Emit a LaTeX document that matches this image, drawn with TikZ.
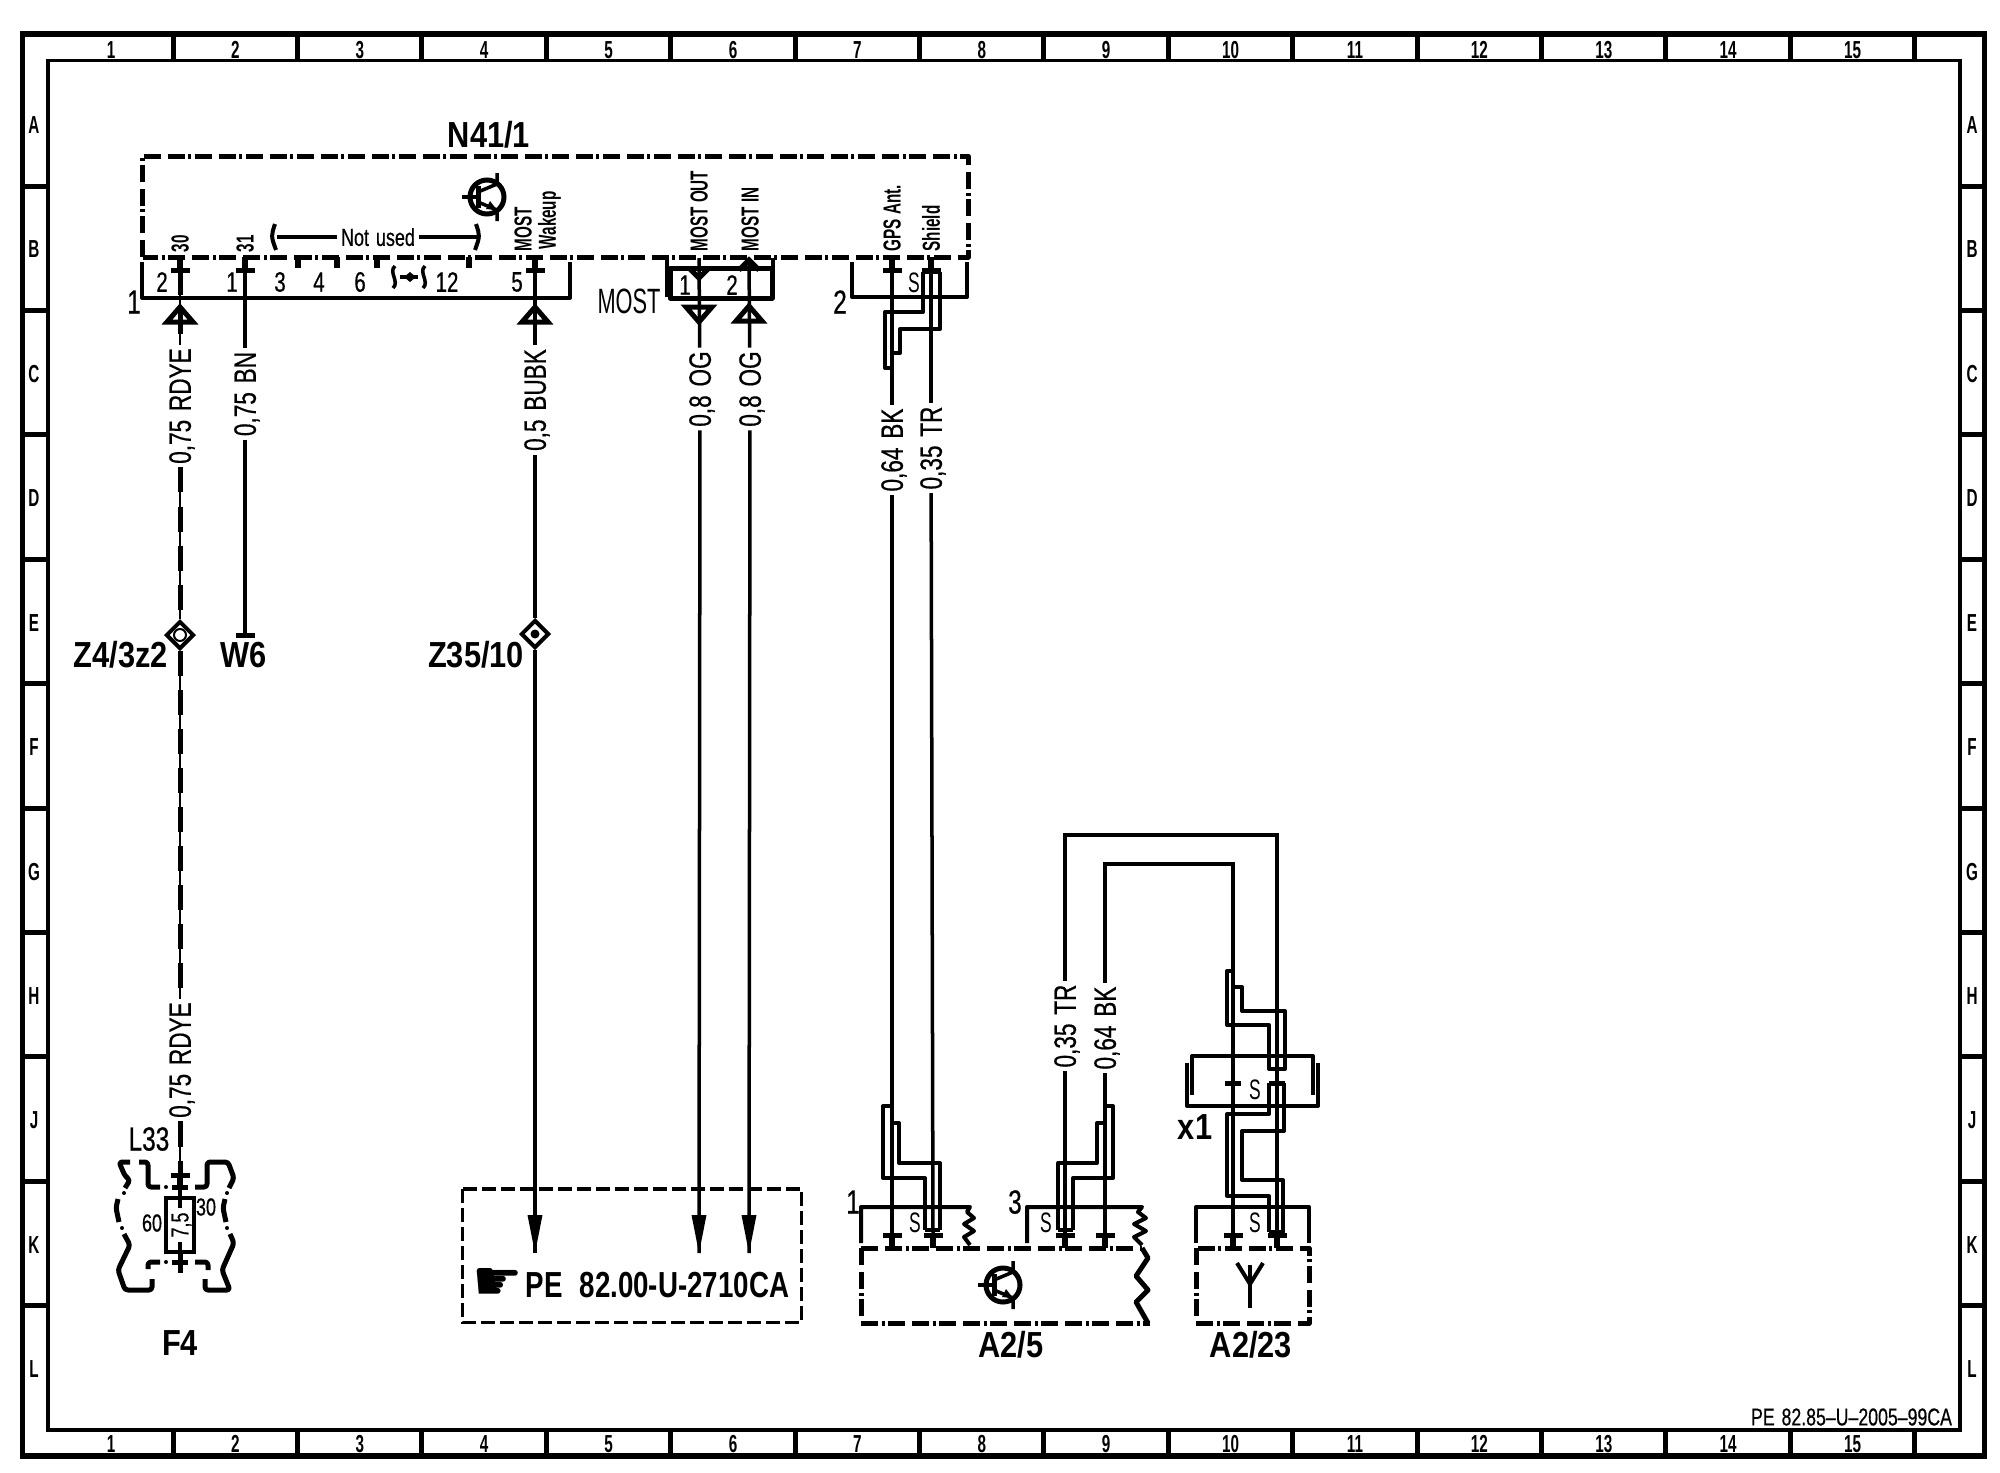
\documentclass[tikz,border=0pt]{standalone}
\usepackage{fontspec}
\usetikzlibrary{shapes.geometric}
\newfontfamily\wirefont[FakeStretch=0.73,FakeBold=0.5,WordSpace=1.4]{Liberation Sans}
\newfontfamily\namefont[FakeStretch=0.85]{Liberation Sans}
\newfontfamily\reffont[FakeStretch=0.765,WordSpace=2.2]{Liberation Sans}
\newfontfamily\pinfont[FakeStretch=0.62]{Liberation Sans}
\newfontfamily\handfont{DejaVu Sans}
\tikzset{
    x=0.01cm, y=-0.01cm,
    wire/.style={draw=black, line width=0.035cm},
    stripe/.style={draw=black, line width=0.015cm, postaction={draw, line width=0.05cm, dash pattern=on 0.25cm off 0.14cm}},
    shield/.style={draw=black, line width=0.04cm, line join=round},
    bracket/.style={draw=black, line width=0.04cm, line join=round},
    unit/.style={draw=black, line width=0.05cm, line join=round, dash pattern=on 0.17cm off 0.07cm on 0.17cm off 0.035cm on 0.03cm off 0.035cm},
    frame/.style={draw=black, line width=0.05cm},
    fuseline/.style={draw=black, line width=0.05cm, line join=round, rounded corners=0.03cm},
    wirelabel/.style={font=\wirefont\fontsize{8.8}{9}\selectfont, rotate=90, inner sep=0.03cm, text depth=0pt},
    smalllabel/.style={font=\pinfont\bfseries\fontsize{7}{8}\selectfont, inner sep=0pt, text depth=0pt},
    pinnum/.style={font=\wirefont\fontsize{8}{9}\selectfont, inner sep=0pt},
    connum/.style={font=\wirefont\fontsize{9.5}{10}\selectfont, inner sep=0pt},
    devname/.style={font=\namefont\bfseries\fontsize{10.3}{11}\selectfont, inner sep=0pt},
    shieldmark/.style={font=\pinfont\fontsize{8}{9}\selectfont, inner sep=0pt},
    splice/.style={shape=diamond, draw=black, fill=white, line width=0.04cm, minimum width=0.28cm, minimum height=0.28cm, inner sep=0pt},
    sockup/.pic={
        \draw[line width=0.06cm] (0,-13) -- (0,0);
        \draw[line width=0.05cm] (-7,3) -- (-7,0) -- (7,0) -- (7,3);
    },
    sockdown/.pic={
        \draw[line width=0.06cm] (0,0) -- (0,13);
        \draw[line width=0.05cm] (-7,3) -- (-7,0) -- (7,0) -- (7,3);
    },
    tipup/.pic={\draw[line width=0.05cm, line join=miter] (0,-8) -- (13,7) -- (-13,7) -- cycle;},
    tipdown/.pic={\draw[line width=0.05cm, line join=miter] (0,8) -- (13,-7) -- (-13,-7) -- cycle;},
    transistor/.pic={
        \draw[line width=0.05cm] (0,0) circle (17);
        \draw[line width=0.04cm] (-25,0) -- (-9,0);
        \draw[line width=0.05cm] (-9,-11) -- (-9,11);
        \draw[line width=0.035cm] (-9,-5) -- (10,-13) -- (10,-24);
        \draw[line width=0.035cm] (-9,5) -- (10,13) -- (10,24);
        \fill (10,13) -- (-1,12) -- (3,4) -- cycle;
    },
}
\begin{document}
\begin{tikzpicture}
    \useasboundingbox (0,0) rectangle (2000,1472);
    % sheet frame
    \draw[line width=0.055cm] (22.5,34) rectangle (1984.5,1456);
    \draw[line width=0.035cm] (48,60.5) rectangle (1960,1430);
    \foreach \i in {1,...,15} {
        \pgfmathsetmacro{\tickx}{173+124.4*(\i-1)}
        \draw[frame] (\tickx,34) -- (\tickx,60.5);
        \draw[frame] (\tickx,1430) -- (\tickx,1456);
        \node[smalllabel] (top\i) at (\tickx-62,50) {\i};
        \node[smalllabel] (bot\i) at (\tickx-62,1444) {\i};
    }
    \foreach \r [count=\i] in {A,B,C,D,E,F,G,H,J,K,L} {
        \pgfmathsetmacro{\rowy}{186+124.4*(\i-1)}
        \node[smalllabel] (left\r) at (34,\rowy-61) {\r};
        \node[smalllabel] (right\r) at (1972,\rowy-61) {\r};
    }
    \foreach \i in {0,...,9} {
        \pgfmathsetmacro{\rowy}{186+124.4*\i}
        \draw[frame] (22.5,\rowy) -- (48,\rowy);
        \draw[frame] (1960,\rowy) -- (1984.5,\rowy);
    }
    \node[font=\wirefont\fontsize{6.9}{8}\selectfont, inner sep=0pt] (sheetno) at (1851.5,1417) {PE 82.85–U–2005–99CA};

    % N41/1
    \draw[unit] (142.5,257) -- (142.5,156) -- (968,156) -- (968,257) -- cycle;
    \node[devname] (n41) at (489,135) {N41/1};
    \pic at (487,197) {transistor};
    \draw[bracket] (142,262) -- (142,298) -- (570,298) -- (570,262);
    \draw[bracket] (852,262) -- (852,297) -- (967,297) -- (967,262);
    \node[connum] (con1) at (134,302) {1};
    \node[connum] (con2) at (840,302) {2};
    \node[connum, font=\pinfont\fontsize{10}{10}\selectfont] (conmost) at (629,301) {MOST};
    \node[pinnum] (n2) at (162,282) {2};
    \node[pinnum] (n1) at (232,282) {1};
    \node[pinnum] (n3) at (280,282) {3};
    \node[pinnum] (n4) at (319,282) {4};
    \node[pinnum] (n6) at (360,282) {6};
    \node[pinnum] (n12) at (447,282) {12};
    \node[pinnum] (n5) at (517,282) {5};
    \node[shieldmark] (ns) at (914,283) {S};
    \foreach \x in {298,337,377,469}
        \draw[line width=0.06cm] (\x,257) -- (\x,268);
    \node[smalllabel, font=\wirefont\fontsize{7}{7}\selectfont, inner xsep=0.03cm] (notused) at (378,237) {Not used};
    \coordinate (usedl) at (277,237);
    \coordinate (usedr) at (477,237);
    \draw[wire] (usedl) -- (notused) -- (usedr);
    \draw[line width=0.04cm] (275,224) .. controls (271,236) .. (276,250);
    \draw[line width=0.04cm] (476,224) .. controls (480,236) .. (475,250);
    % pins break
    \draw[line width=0.035cm] (395,266) .. controls (388,272) and (400,282) .. (393,288);
    \draw[line width=0.035cm] (425,266) .. controls (418,272) and (430,282) .. (423,288);
    \draw[wire] (400,277) -- (418,277);
    \fill (404,277) -- (410,272) -- (416,277) -- (410,282) -- cycle;

    % pin texts
    \node[smalllabel, rotate=90, anchor=west] (t30) at (180,253) {30};
    \node[smalllabel, rotate=90, anchor=west] (t31) at (245,253) {31};
    \node[smalllabel, rotate=90, anchor=west] (tmost) at (523,252) {MOST};
    \node[smalllabel, rotate=90, anchor=west] (twake) at (547,250) {Wakeup};
    \node[smalllabel, rotate=90, anchor=west] (tout) at (699,252) {MOST OUT};
    \node[smalllabel, rotate=90, anchor=west] (tin) at (750,252) {MOST IN};
    \node[smalllabel, rotate=90, anchor=west] (tgps) at (892,252) {GPS Ant.};
    \node[smalllabel, rotate=90, anchor=west] (tshield) at (931,252) {Shield};

    % pins of N41/1
    \coordinate (pin30) at (180,270);
    \coordinate (pin31) at (245,270);
    \coordinate (pin5) at (535,270);
    \coordinate (pingps) at (892,270);
    \coordinate (pinshield) at (931,270);
    \foreach \p in {pin30,pin31,pin5,pingps,pinshield}
        \pic at (\p) {sockup};

    % wires down from N41/1
    \node[wirelabel] (w30a) at (180,406) {0,75 RDYE};
    \node[wirelabel] (w30b) at (180,1060) {0,75 RDYE};
    \node[wirelabel] (w31) at (245,394) {0,75 BN};
    \node[wirelabel] (w5) at (535,400) {0,5 BUBK};
    \node[wirelabel] (wout) at (700,389) {0,8 OG};
    \node[wirelabel] (win) at (750,389) {0,8 OG};
    \node[wirelabel] (wbk) at (892,450) {0,64 BK};
    \node[wirelabel] (wtr) at (931,448) {0,35 TR};
    \draw[stripe] (pin30) -- (w30a);
    \draw[wire] (pin31) -- (w31);
    \draw[wire] (pin5) -- (w5);
    \draw[wire] (pingps) -- (wbk);
    \draw[wire] (pinshield) -- (wtr);
    \pic at (180,315) {tipup};
    \pic at (535,315) {tipup};

    % splices and the ends
    \node[splice] (z4) at (180,635) {};
    \node[splice] (z35) at (535,634) {};
    \draw[stripe] (w30a) -- (z4);
    \draw[stripe] (z4) -- (w30b);
    \draw[wire] (w5) -- (z35);
    \node[draw, circle, line width=0.02cm, inner sep=0pt, minimum size=0.12cm] (z4c) at (180,635) {};
    \node[fill, circle, inner sep=0pt, minimum size=0.09cm] (z35c) at (535,634) {};
    \node[devname] (z4name) at (121,655) {Z4/3z2};
    \node[devname] (z35name) at (476,655) {Z35/10};
    \coordinate (w6end) at (245,635);
    \draw[wire] (w31) -- (w6end);
    \draw[line width=0.05cm] (236,635) -- (255,635);
    \node[devname] (w6) at (244,655) {W6};

    % MOST plug
    \draw[line width=0.05cm, line join=round] (670,268) rectangle (772,298);
    \draw[line width=0.04cm] (667,258) -- (667,297);
    \draw[line width=0.04cm] (773,258) -- (773,297);
    \node[pinnum] (most1) at (685,285) {1};
    \node[pinnum] (most2) at (732,285) {2};
    \coordinate (pinout) at (699,258);
    \coordinate (pinin) at (749,258);
    \draw[wire] (pinout) -- (wout);
    \draw[wire] (pinin) -- (win);
    \draw[line width=0.05cm] (689,268) -- (699,278) -- (709,268);
    \draw[line width=0.05cm] (739,270) -- (749,260) -- (759,270);
    \pic at (699,314) {tipdown};
    \pic at (749,314) {tipup};

    % lower left: F4
    \draw[fuseline] (130,1162) -- (119,1162) -- (125,1176) -- (130,1180) -- (125,1188);
    \draw[fuseline] (118,1199) -- (116,1208) -- (119,1222);
    \draw[fuseline] (124,1234) -- (130,1245) -- (118,1270) -- (125,1290) -- (152,1290) -- (152,1279);
    \draw[fuseline] (148,1269) -- (148,1262) -- (160,1262);
    \draw[fuseline] (172,1262) -- (188,1262);
    \draw[fuseline] (195,1262) -- (208,1262) -- (208,1270);
    \draw[fuseline] (205,1279) -- (205,1290) -- (230,1290) -- (222,1270) -- (234,1243) -- (230,1234);
    \draw[fuseline] (226,1222) -- (223,1208) -- (225,1199);
    \draw[fuseline] (229,1188) -- (234,1178) -- (228,1162) -- (207,1162) -- (207,1187) -- (195,1187);
    \draw[fuseline] (172,1187) -- (188,1187);
    \draw[fuseline] (160,1187) -- (148,1187) -- (148,1162) -- (139,1162);
    \foreach \x/\y in {124/1193,122/1228,227/1228,227/1193,166/1262,166/1187}
        \fill (\x,\y) circle (2);
    \node[connum] (l33) at (149,1139) {L33};
    \node[draw=black, line width=0.045cm, minimum width=0.28cm, minimum height=0.54cm, inner sep=0pt] (fuse) at (180,1225) {};
    \node[smalllabel, rotate=90, font=\wirefont\fontsize{7}{8}\selectfont] (fuseval) at (180,1225) {7,5};
    \coordinate (pinfuse) at (180,1175);
    \coordinate (fuseend) at (180,1273);
    \pic at (pinfuse) {sockdown};
    \draw[stripe] (w30b) -- (pinfuse);
    \draw[wire] (pinfuse) -- (fuse);
    \draw[line width=0.05cm] (fuse) -- (fuseend);
    \draw[wire] (180,1198) -- (180,1208);
    \draw[wire] (180,1242) -- (180,1252);
    \node[pinnum, font=\wirefont\fontsize{7}{8}\selectfont] (f60) at (152,1223) {60};
    \node[pinnum, font=\wirefont\fontsize{7}{8}\selectfont] (f30) at (206,1207) {30};
    \node[devname] (f4) at (180,1343) {F4};

    % reference box
    \draw[line width=0.035cm, dash pattern=on 0.14cm off 0.05cm] (462.7,1189) rectangle (801.7,1322.7);
    \node[inner sep=0pt, font=\handfont\fontsize{16}{16}\selectfont] (hand) at (498,1284) {☛};
    \node[devname, font=\reffont\bfseries\fontsize{10.3}{11}\selectfont, anchor=west] (peref) at (525,1285) {PE 82.00-U-2710CA};
    \coordinate (in5) at (535,1253);
    \coordinate (inout) at (699,1253);
    \coordinate (inin) at (749,1253);
    \draw[wire] (z35) -- (in5);
    \draw[wire] (wout) -- (inout);
    \draw[wire] (win) -- (inin);
    \foreach \p in {in5,inout,inin}
        \fill (\p) ++(-7.5,-38) -- ++(15,0) -- (\p) -- cycle;

    % shield at N41/1
    \draw[shield] (923,272) -- (923,312) -- (885,312) -- (885,368) -- (892,368);
    \draw[shield] (940,272) -- (940,329) -- (900,329) -- (900,353) -- (892,353);
    \draw[shield] (923,272) -- (940,272);

    % A2/5
    \draw[unit] (861,1248) -- (1142,1248);
    \draw[unit] (861,1248) -- (861,1323) -- (1150,1323);
    \pic at (1003,1285) {transistor};
    \draw[bracket] (861,1243) -- (861,1207) -- (970,1207) -- (967,1212) -- (974,1218) -- (964,1224) -- (974,1231) -- (964,1237) -- (970,1245);
    \draw[bracket] (1027,1243) -- (1027,1207) -- (1142,1207) -- (1138,1212) -- (1146,1218) -- (1134,1224) -- (1146,1231) -- (1134,1237) -- (1142,1245);
    \draw[line width=0.05cm, line join=round] (1142,1248) -- (1148,1258) -- (1136,1276) -- (1148,1290) -- (1136,1302) -- (1148,1323);
    \node[connum] (a1) at (853,1202) {1};
    \node[connum] (a3) at (1015,1202) {3};
    \node[shieldmark] (as1) at (915,1223) {S};
    \node[shieldmark] (as3) at (1046,1223) {S};
    \coordinate (pina1) at (892,1235);
    \coordinate (pina2) at (933,1235);
    \coordinate (pina3) at (1065,1235);
    \coordinate (pina4) at (1105,1235);
    \foreach \p in {pina1,pina2,pina3,pina4}
        \pic at (\p) {sockdown};
    \draw[wire] (wbk) -- (pina1);
    \draw[wire] (wtr) -- (pina2);
    \node[devname] (a25) at (1011,1345) {A2/5};
    \draw[shield] (892,1106) -- (883,1106) -- (883,1178) -- (925,1178) -- (925,1230);
    \draw[shield] (892,1123) -- (899,1123) -- (899,1163) -- (940,1163) -- (940,1230);
    \draw[shield] (925,1230) -- (940,1230);
    \draw[shield] (1105,1106) -- (1113,1106) -- (1113,1178) -- (1073,1178) -- (1073,1230);
    \draw[shield] (1105,1123) -- (1097,1123) -- (1097,1163) -- (1058,1163) -- (1058,1230);
    \draw[shield] (1058,1230) -- (1073,1230);

    % wires from A2/5 to x1
    \node[wirelabel] (wtr2) at (1065,1026) {0,35 TR};
    \node[wirelabel] (wbk2) at (1105,1028) {0,64 BK};
    \draw[wire] (wtr2) -- (pina3);
    \draw[wire] (wbk2) -- (pina4);
    \coordinate (pinx1) at (1233,1083);
    \coordinate (pinx2) at (1277,1083);
    \draw[wire] (wtr2) -- (1065,835) -- (1277,835) -- (pinx2);
    \draw[wire] (wbk2) -- (1105,864) -- (1233,864) -- (pinx1);
    \foreach \p in {pinx1,pinx2}
        \draw[line width=0.05cm] (\p) ++(-8,0) -- ++(16,0);

    % x1
    \draw[bracket] (1192,1095) -- (1192,1056) -- (1313,1056) -- (1313,1095);
    \draw[bracket] (1187,1063) -- (1187,1106) -- (1318,1106) -- (1318,1063);
    \node[shieldmark] (xs) at (1255,1090) {S};
    \node[devname] (x1) at (1195,1127) {x1};
    \draw[shield] (1233,971) -- (1227,971) -- (1227,1025) -- (1269,1025) -- (1269,1069) -- (1285,1069) -- (1285,1011) -- (1242,1011) -- (1242,987) -- (1233,987);
    \draw[shield] (1269,1083) -- (1269,1114) -- (1227,1114) -- (1227,1196) -- (1269,1196) -- (1269,1232);
    \draw[shield] (1284,1083) -- (1284,1131) -- (1242,1131) -- (1242,1180) -- (1283,1180) -- (1283,1232) -- (1269,1232);

    % A2/23
    \draw[unit] (1196,1248) rectangle (1309,1323);
    \draw[bracket] (1196,1243) -- (1196,1207) -- (1309,1207) -- (1309,1243);
    \node[shieldmark] (as23) at (1255,1223) {S};
    \coordinate (pinb1) at (1233,1235);
    \coordinate (pinb2) at (1277,1235);
    \foreach \p in {pinb1,pinb2}
        \pic at (\p) {sockdown};
    \draw[wire] (pinx1) -- (pinb1);
    \draw[wire] (pinx2) -- (pinb2);
    \draw[line width=0.04cm] (1250,1308) -- (1250,1265);
    \draw[line width=0.04cm] (1237,1263) -- (1250,1284) -- (1263,1263);
    \node[devname] (a223) at (1251,1345) {A2/23};
\end{tikzpicture}
\end{document}
